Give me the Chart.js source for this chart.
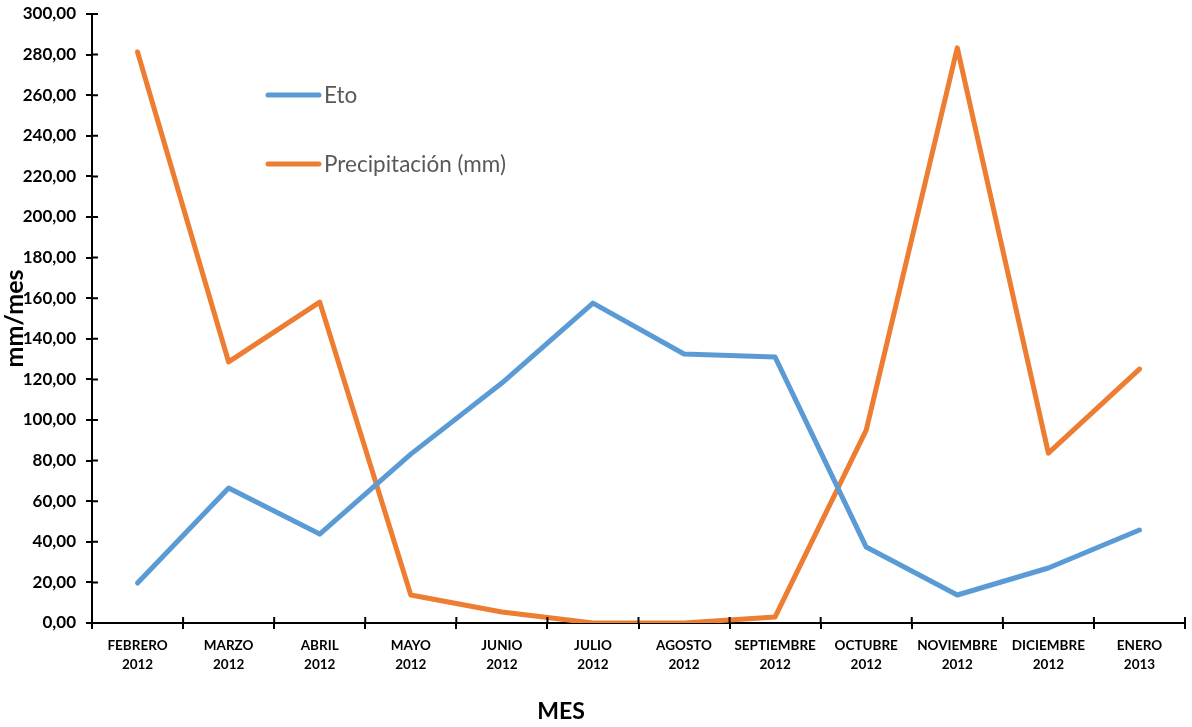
<!DOCTYPE html>
<html>
<head>
<meta charset="utf-8">
<script src="https://cdn.jsdelivr.net/npm/chart.js@4/dist/chart.umd.min.js"></script>
<style>
  html, body { margin: 0; padding: 0; background: #fff; }
  #wrap { width: 1192px; height: 727px; }
</style>
</head>
<body>
<div id="wrap"><canvas id="chart"></canvas></div>
<script>
// months (two-line labels)
const months = [
  ['FEBRERO', '2012'], ['MARZO', '2012'], ['ABRIL', '2012'], ['MAYO', '2012'],
  ['JUNIO', '2012'], ['JULIO', '2012'], ['AGOSTO', '2012'], ['SEPTIEMBRE', '2012'],
  ['OCTUBRE', '2012'], ['NOVIEMBRE', '2012'], ['DICIEMBRE', '2012'], ['ENERO', '2013']
];
const eto = [19.7, 66.5, 43.8, 83.2, 118.2, 157.6, 132.5, 131.0, 37.4, 13.8, 27.1, 45.8];
const precip = [281.3, 128.6, 158.1, 13.8, 5.4, 0, 0, 3.0, 95.0, 283.3, 83.7, 125.1];
const yMax = 300;
const yStep = 20;

const FONT = 'Lato, "Open Sans", sans-serif';

// tick marks crossing into the plot area, like the original
const innerTicks = {
  id: 'innerTicks',
  afterDraw(chart) {
    const { ctx, chartArea } = chart;
    const x = chart.scales.x, y = chart.scales.y;
    ctx.save();
    ctx.strokeStyle = '#000';
    ctx.lineWidth = 2;
    ctx.beginPath();
    y.ticks.forEach(t => {
      const py = y.getPixelForValue(t.value);
      ctx.moveTo(chartArea.left, py);
      ctx.lineTo(chartArea.left + 6, py);
    });
    for (let i = 0; i <= months.length; i++) {
      const px = x.getPixelForValue(i - 0.5);
      ctx.moveTo(px, chartArea.bottom);
      ctx.lineTo(px, chartArea.bottom - 6);
    }
    ctx.stroke();
    ctx.restore();
  }
};

// legend sitting inside the plot, upper left, plus the "MES" caption
const insideLegend = {
  id: 'insideLegend',
  afterDraw(chart) {
    const { ctx } = chart;
    ctx.save();
    ctx.font = '22.5px ' + FONT;
    ctx.textBaseline = 'middle';
    chart.data.datasets.forEach((ds, i) => {
      const ly = 95 + i * 69;
      ctx.strokeStyle = ds.borderColor;
      ctx.lineWidth = 5;
      ctx.lineCap = 'round';
      ctx.beginPath();
      ctx.moveTo(268, ly);
      ctx.lineTo(319, ly);
      ctx.stroke();
      ctx.fillStyle = '#595959';
      ctx.fillText(ds.label, 324, ly + 1);
    });
    ctx.fillStyle = '#000';
    ctx.font = 'bold 23px ' + FONT;
    ctx.textAlign = 'center';
    ctx.fillText('MES', 561, 712);
    ctx.restore();
  }
};

new Chart(document.getElementById('chart'), {
  type: 'line',
  data: {
    labels: months,
    datasets: [
      {
        label: 'Eto',
        data: eto,
        borderColor: '#5B9BD5',
        backgroundColor: '#5B9BD5',
        borderWidth: 5,
        pointRadius: 0,
        tension: 0,
        borderCapStyle: 'round',
        borderJoinStyle: 'round',
      },
      {
        label: 'Precipitación (mm)',
        data: precip,
        borderColor: '#ED7D31',
        backgroundColor: '#ED7D31',
        borderWidth: 5,
        pointRadius: 0,
        tension: 0,
        borderCapStyle: 'round',
        borderJoinStyle: 'round',
      },
    ],
  },
  options: {
    responsive: true,
    maintainAspectRatio: false,
    animation: false,
    layout: { padding: { top: 14, right: 7, left: 0, bottom: 0 } },
    plugins: {
      legend: { display: false },
      tooltip: { enabled: false },
    },
    scales: {
      x: {
        type: 'category',
        offset: true,
        grid: { offset: true, drawOnChartArea: false, drawTicks: true, tickLength: 6, color: '#000', lineWidth: 2 },
        border: { color: '#000', width: 2 },
        ticks: {
          color: '#000',
          font: { family: FONT, size: 13.5, weight: 'bold', lineHeight: 1.4 },
          padding: 7,
          maxRotation: 0,
          autoSkip: false,
        },
        afterFit(scale) { scale.height = 104; },
      },
      y: {
        min: 0,
        max: yMax,
        grid: { drawOnChartArea: false, drawTicks: true, tickLength: 6, color: '#000', lineWidth: 2 },
        border: { color: '#000', width: 2 },
        ticks: {
          stepSize: yStep,
          color: '#000',
          font: { family: FONT, size: 17, weight: 'bold' },
          padding: 10,
          callback: v => v.toFixed(2).replace('.', ','),
        },
        title: {
          display: true,
          text: 'mm/mes',
          color: '#000',
          font: { family: FONT, size: 25, weight: 'bold' },
          padding: { top: 0, bottom: 0 },
        },
        afterFit(scale) {
          scale.width = 92;
          scale.paddingTop = 0;
        },
      },
    },
  },
  plugins: [innerTicks, insideLegend],
});
</script>
</body>
</html>
